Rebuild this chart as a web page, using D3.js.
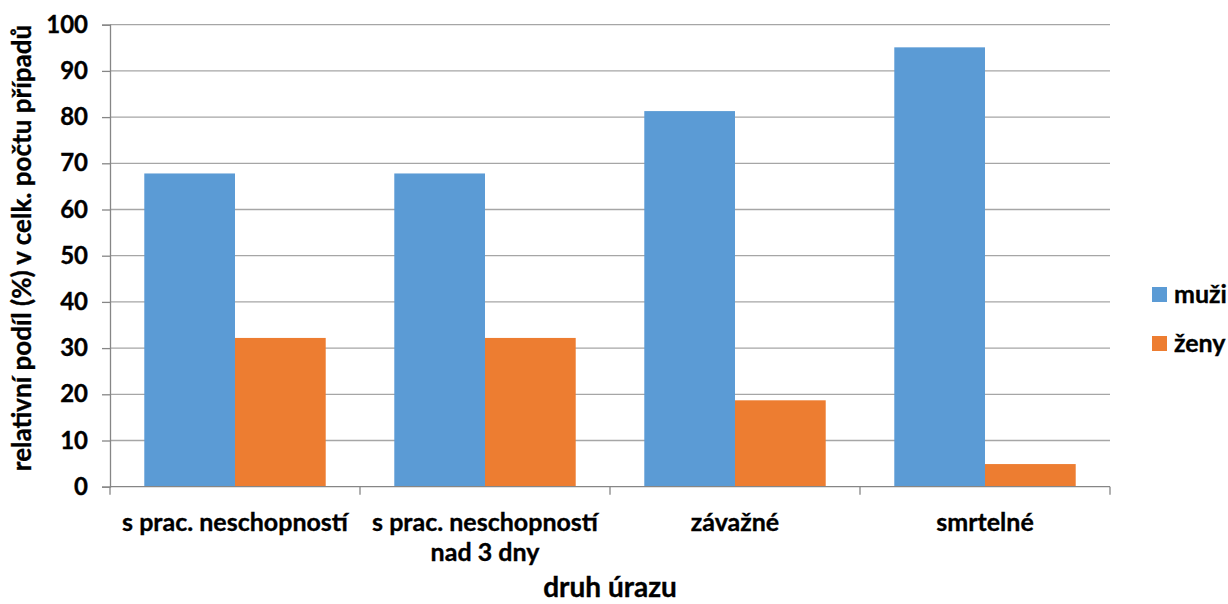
<!DOCTYPE html>
<html><head><meta charset="utf-8">
<script src="https://cdn.jsdelivr.net/npm/d3@7"></script>
<style>body{margin:0;background:#fff}text{font-family:Lato,"Open Sans",sans-serif;font-weight:bold;fill:#000;stroke:#000;stroke-width:0.35px}</style>
</head><body><svg id="c" width="1228" height="604"></svg>
<script>
const categories = [["s prac. neschopností"], ["s prac. neschopností", "nad 3 dny"], ["závažné"], ["smrtelné"]];
const seriesNames = ["muži", "ženy"];
const muzi = [67.8, 67.8, 81.3, 95.1];
const zeny = [32.2, 32.2, 18.7, 4.9];
const yTicks = [0, 10, 20, 30, 40, 50, 60, 70, 80, 90, 100];
const colors = ["#5b9bd5", "#ed7d31"];

const svg = d3.select("#c");
const L = 110, R = 1110, T = 24.7, B = 486.7;
const x = d3.scaleBand().domain(d3.range(categories.length)).range([L, R]).paddingInner(0).paddingOuter(0);
const y = d3.scaleLinear().domain([0, 100]).range([B, T]);
const bw = x.bandwidth();
const xs = d3.scaleBand().domain(seriesNames).range([0, bw]).paddingInner(0).paddingOuter(0.378);

// gridlines
svg.append("g").selectAll("line").data(yTicks.filter(d => d > 0)).join("line")
  .attr("x1", L).attr("x2", R).attr("y1", d => y(d)).attr("y2", d => y(d))
  .attr("stroke", "#a6a6a6").attr("stroke-width", 1.3);

// bars
const data = [muzi, zeny];
const g = svg.append("g");
categories.forEach((c, i) => {
  seriesNames.forEach((s, j) => {
    g.append("rect").attr("x", x(i) + xs(s)).attr("width", xs.bandwidth())
      .attr("y", y(data[j][i])).attr("height", y(0) - y(data[j][i]))
      .attr("fill", colors[j]);
  });
});

// y axis
const ya = d3.axisLeft(y).tickValues(yTicks).tickSize(8).tickPadding(14);
const yg = svg.append("g").attr("transform", `translate(${L},0)`).call(ya);
yg.select(".domain").attr("stroke", "#868686").attr("stroke-width", 1.3);
yg.selectAll(".tick line").attr("stroke", "#868686").attr("stroke-width", 1.3);
yg.selectAll(".tick text").style("font-size", "24px").style("font-family", "Lato").style("font-weight", "bold")
  .attr("fill", "#000").style("stroke", "#000").style("stroke-width", "0.35px");

// x axis
const xg = svg.append("g").attr("transform", `translate(0,${B})`);
xg.append("line").attr("x1", L).attr("x2", R).attr("stroke", "#868686").attr("stroke-width", 1.3);
xg.selectAll(".t").data(d3.range(categories.length + 1)).join("line")
  .attr("x1", d => L + d * bw).attr("x2", d => L + d * bw).attr("y1", 0).attr("y2", 8)
  .attr("stroke", "#868686").attr("stroke-width", 1.3);
categories.forEach((c, i) => {
  const t = svg.append("text").attr("x", x(i) + bw / 2).attr("y", 531)
    .attr("text-anchor", "middle").style("font-size", "25px");
  c.forEach((line, k) => t.append("tspan").attr("x", x(i) + bw / 2).attr("dy", k ? 30 : 0).text(line));
});

// axis titles
svg.append("text").attr("x", 610).attr("y", 597).attr("text-anchor", "middle").style("font-size", "28px").text("druh úrazu");
svg.append("text").attr("transform", "translate(31,248) rotate(-90)").attr("text-anchor", "middle").style("font-size", "26px")
  .text("relativní podíl (%) v celk. počtu případů");

// legend
seriesNames.forEach((s, j) => {
  const ly = 287 + j * 49;
  svg.append("rect").attr("x", 1152).attr("y", ly).attr("width", 15).attr("height", 15).attr("fill", colors[j]);
  svg.append("text").attr("x", 1174).attr("y", ly + 16).style("font-size", "25px").text(s);
});
</script></body></html>
